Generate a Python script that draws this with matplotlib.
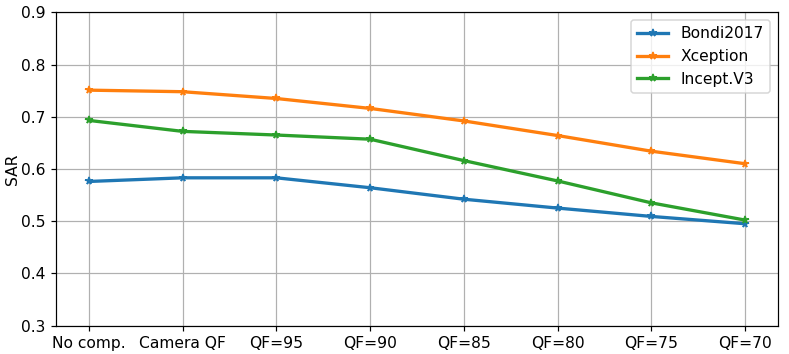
import numpy as np
import matplotlib
matplotlib.use("Agg")
import matplotlib.pyplot as plt

labels = ["No comp.", "Camera QF", "QF=95", "QF=90", "QF=85", "QF=80", "QF=75", "QF=70"]
bondi = [0.576, 0.583, 0.583, 0.564, 0.542, 0.525, 0.509, 0.495]
xception = [0.751, 0.748, 0.735, 0.716, 0.692, 0.664, 0.634, 0.610]
incept = [0.693, 0.672, 0.665, 0.657, 0.616, 0.577, 0.535, 0.502]

plt.rcParams["font.size"] = 10.3
dpi = 108
fig = plt.figure(figsize=(789 / dpi, 354 / dpi), dpi=dpi)
ax = fig.add_axes([0.071, 0.0805, 0.915, 0.8845])
x = np.arange(len(labels))
ax.plot(x, bondi, marker="*", lw=2.2, ms=5, label="Bondi2017")
ax.plot(x, xception, marker="*", lw=2.2, ms=5, label="Xception")
ax.plot(x, incept, marker="*", lw=2.2, ms=5, label="Incept.V3")
ax.set_xticks(x)
ax.set_xticklabels(labels)
ax.set_xlim(-0.35, 7.35)
ax.set_ylim(0.3, 0.9)
ax.set_ylabel("SAR", labelpad=0.5)
ax.grid(True)
ax.legend(loc="upper right")
fig.savefig("out.png", dpi=dpi)
